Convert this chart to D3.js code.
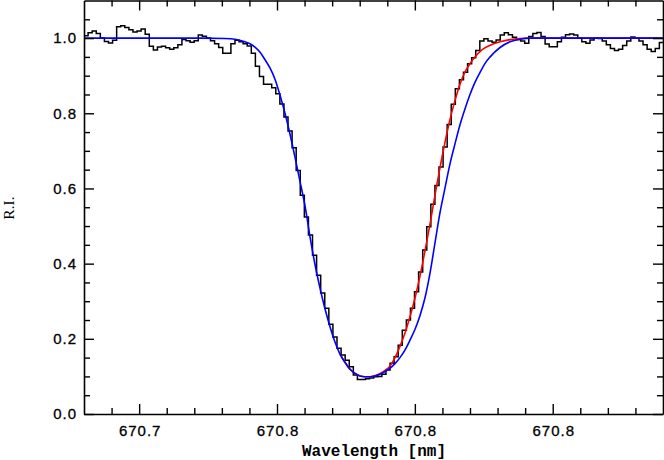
<!DOCTYPE html>
<html>
<head>
<meta charset="utf-8">
<script src="https://cdn.jsdelivr.net/npm/d3@7"></script>
<style>
  html, body { margin: 0; padding: 0; background: #ffffff; }
  svg { display: block; }
</style>
</head>
<body>
<svg id="chart" width="664" height="460"></svg>
<script>
// ---------------- data ----------------
// observed spectrum: regular wavelength grid, one flux value per bin
const obsLambda0 = 670.6800;
const obsStep = 0.00148;
const obsFlux = [
  1.006, 1.014, 1.019, 1.012, 1.000, 0.991, 0.987, 0.994, 1.030, 1.033,
  1.028, 1.022, 1.016, 1.019, 1.024, 1.010, 0.978, 0.968, 0.976, 0.978,
  0.974, 0.970, 0.974, 0.982, 0.996, 0.993, 0.989, 0.993, 1.008, 1.005,
  1.000, 0.993, 0.985, 0.975, 0.960, 0.960, 0.985, 0.994, 0.990, 0.985,
  0.979, 0.960, 0.925, 0.898, 0.877, 0.877, 0.868, 0.852, 0.825, 0.790,
  0.753, 0.708, 0.648, 0.582, 0.524, 0.476, 0.422, 0.369, 0.322, 0.281,
  0.239, 0.205, 0.175, 0.157, 0.143, 0.126, 0.104, 0.092, 0.092, 0.094,
  0.096, 0.099, 0.100, 0.106, 0.117, 0.135, 0.152, 0.183, 0.223, 0.250,
  0.281, 0.325, 0.378, 0.436, 0.498, 0.558, 0.608, 0.657, 0.710, 0.770,
  0.824, 0.865, 0.889, 0.909, 0.932, 0.948, 0.967, 0.992, 0.998, 0.992,
  0.989, 0.995, 1.008, 1.014, 1.009, 1.002, 0.996, 0.992, 0.986, 1.004,
  1.012, 1.015, 1.004, 0.984, 0.977, 0.977, 0.990, 1.002, 1.009, 1.011,
  1.008, 1.000, 0.990, 0.986, 0.995, 1.000, 0.999, 0.992, 0.982, 0.972,
  0.967, 0.970, 0.980, 0.992, 1.003, 1.000, 0.992, 0.982, 0.970, 0.964,
  0.972, 0.988
];

// blue model
const blueLambda = [
  670.6800, 670.7221, 670.7311, 670.7348, 670.7384, 670.7402, 670.7420, 670.7438,
  670.7456, 670.7475, 670.7493, 670.7511, 670.7529, 670.7547, 670.7565, 670.7583,
  670.7602, 670.7620, 670.7638, 670.7656, 670.7674, 670.7692, 670.7710, 670.7728,
  670.7747, 670.7765, 670.7783, 670.7801, 670.7819, 670.7837, 670.7855, 670.7874,
  670.7892, 670.7910, 670.7928, 670.7946, 670.7964, 670.7982, 670.8001, 670.8019,
  670.8037, 670.8055, 670.8073, 670.8091, 670.8109, 670.8127, 670.8146, 670.8164,
  670.8182, 670.8200, 670.8218, 670.8236, 670.8254, 670.8273, 670.8309, 670.8345,
  670.8381, 670.8418, 670.8900
];
const blueFlux = [
  1.000, 1.000, 0.999, 0.997, 0.990, 0.985, 0.976, 0.963,
  0.943, 0.920, 0.890, 0.848, 0.800, 0.745, 0.684, 0.620,
  0.552, 0.470, 0.397, 0.335, 0.280, 0.233, 0.192, 0.160,
  0.137, 0.119, 0.108, 0.101, 0.099, 0.099, 0.101, 0.106,
  0.113, 0.122, 0.134, 0.150, 0.170, 0.196, 0.226, 0.263,
  0.310, 0.375, 0.455, 0.535, 0.600, 0.664, 0.720, 0.770,
  0.812, 0.850, 0.882, 0.908, 0.932, 0.950, 0.975, 0.990,
  0.997, 1.000, 1.000
];

// red model
const redLambda = [
  670.7728, 670.7747, 670.7765, 670.7783, 670.7801, 670.7819, 670.7837, 670.7855,
  670.7874, 670.7892, 670.7910, 670.7928, 670.7946, 670.7964, 670.7982, 670.8001,
  670.8019, 670.8037, 670.8055, 670.8073, 670.8091, 670.8109, 670.8127, 670.8146,
  670.8164, 670.8182, 670.8200, 670.8218, 670.8236, 670.8254, 670.8273, 670.8309,
  670.8345, 670.8381, 670.8418, 670.8900
];
const redFlux = [
  0.160, 0.137, 0.119, 0.108, 0.101, 0.099, 0.099, 0.102,
  0.108, 0.116, 0.128, 0.150, 0.180, 0.215, 0.258, 0.310,
  0.368, 0.435, 0.505, 0.582, 0.655, 0.722, 0.782, 0.835,
  0.878, 0.910, 0.932, 0.950, 0.964, 0.974, 0.981, 0.990,
  0.996, 0.999, 1.000, 1.000
];

// axes
const xDomain = [670.68, 670.89];
const yDomain = [0, 1.1];
const xMajorTicks = [670.70, 670.75, 670.80, 670.85];
const xMajorLabels = ["670.7", "670.8", "670.8", "670.8"];
const yMajorTicks = [0.0, 0.2, 0.4, 0.6, 0.8, 1.0];
const yMajorLabels = ["0.0", "0.2", "0.4", "0.6", "0.8", "1.0"];
const xLabel = "Wavelength [nm]";
const yLabel = "R.I.";

// ---------------- drawing ----------------
const svg = d3.select("#chart");
const L = 84, R = 663, T = 0.5, B = 414;

const x = d3.scaleLinear().domain(xDomain).range([L, R]);
const y = d3.scaleLinear().domain(yDomain).range([B, T]);

const xMinor = d3.range(0, 22).map(i => 670.68 + i * 0.01)
  .filter(v => v > xDomain[0] + 1e-9 && v < xDomain[1] - 1e-9 &&
               !xMajorTicks.some(m => Math.abs(m - v) < 1e-6));
const yMinor = d3.range(0, 23).map(i => i * 0.05)
  .filter(v => v > 1e-9 && v < yDomain[1] - 1e-9 &&
               !yMajorTicks.some(m => Math.abs(m - v) < 1e-6));

svg.append("defs").append("clipPath").attr("id", "plotclip")
  .append("rect").attr("x", L).attr("y", T).attr("width", R - L).attr("height", B - T);

const plot = svg.append("g").attr("clip-path", "url(#plotclip)");

// observed histogram
const obsPts = obsFlux.map((f, i) => [obsLambda0 + i * obsStep, f]);
obsPts.push([obsLambda0 + obsFlux.length * obsStep, obsFlux[obsFlux.length - 1]]);
plot.append("path")
  .attr("d", d3.line().x(d => x(d[0])).y(d => y(d[1])).curve(d3.curveStepAfter)(obsPts))
  .attr("fill", "none").attr("stroke", "#000").attr("stroke-width", 1.5);

const smooth = d3.line().x(d => x(d[0])).y(d => y(d[1])).curve(d3.curveMonotoneX);

plot.append("path")
  .attr("d", smooth(redLambda.map((l, i) => [l, redFlux[i]])))
  .attr("fill", "none").attr("stroke", "#ff0000").attr("stroke-width", 1.6);

plot.append("path")
  .attr("d", smooth(blueLambda.map((l, i) => [l, blueFlux[i]])))
  .attr("fill", "none").attr("stroke", "#0000ff").attr("stroke-width", 1.6);

// axes helper
function styleAxis(g) {
  g.selectAll("path.domain").attr("stroke", "#000").attr("stroke-width", 1.6);
  g.selectAll(".tick line").attr("stroke", "#000").attr("stroke-width", 1.4);
  g.selectAll(".tick text").attr("fill", "#000")
    .attr("stroke", "#000").attr("stroke-width", 0.3)
    .style("font-family", "'Liberation Sans', Arial, sans-serif")
    .style("font-size", "15px").style("letter-spacing", "1px");
}

// bottom
const gB = svg.append("g").attr("transform", `translate(0,${B})`)
  .call(d3.axisBottom(x).tickValues(xMajorTicks)
    .tickFormat((d, i) => xMajorLabels[i]).tickSizeInner(-10).tickSizeOuter(0).tickPadding(11));
styleAxis(gB);
gB.selectAll(".tick text").attr("dx", "0.5");
svg.append("g").attr("transform", `translate(0,${B})`)
  .call(d3.axisBottom(x).tickValues(xMinor).tickFormat("").tickSizeInner(-6).tickSizeOuter(0))
  .call(g => { g.select("path.domain").remove(); styleAxis(g); });

// top
const gT = svg.append("g").attr("transform", `translate(0,${T})`)
  .call(d3.axisTop(x).tickValues(xMajorTicks).tickFormat("").tickSizeInner(-10).tickSizeOuter(0));
styleAxis(gT);
svg.append("g").attr("transform", `translate(0,${T})`)
  .call(d3.axisTop(x).tickValues(xMinor).tickFormat("").tickSizeInner(-6).tickSizeOuter(0))
  .call(g => { g.select("path.domain").remove(); styleAxis(g); });

// left
const gL = svg.append("g").attr("transform", `translate(${L},0)`)
  .call(d3.axisLeft(y).tickValues(yMajorTicks)
    .tickFormat((d, i) => yMajorLabels[i]).tickSizeInner(-10).tickSizeOuter(0).tickPadding(7));
styleAxis(gL);
svg.append("g").attr("transform", `translate(${L},0)`)
  .call(d3.axisLeft(y).tickValues(yMinor).tickFormat("").tickSizeInner(-6).tickSizeOuter(0))
  .call(g => { g.select("path.domain").remove(); styleAxis(g); });

// right
const gR = svg.append("g").attr("transform", `translate(${R},0)`)
  .call(d3.axisRight(y).tickValues(yMajorTicks).tickFormat("").tickSizeInner(-10).tickSizeOuter(0));
styleAxis(gR);
svg.append("g").attr("transform", `translate(${R},0)`)
  .call(d3.axisRight(y).tickValues(yMinor).tickFormat("").tickSizeInner(-6).tickSizeOuter(0))
  .call(g => { g.select("path.domain").remove(); styleAxis(g); });

// axis titles
svg.append("text")
  .attr("x", 374).attr("y", 456)
  .attr("text-anchor", "middle")
  .style("font-family", "'Liberation Mono', 'DejaVu Sans Mono', monospace")
  .style("font-weight", "bold").style("font-size", "16px")
  .attr("fill", "#000")
  .text(xLabel);

svg.append("text")
  .attr("transform", "translate(13.5,208) rotate(-90)")
  .attr("text-anchor", "middle")
  .style("font-family", "'Liberation Serif', 'DejaVu Serif', serif")
  .style("font-size", "15.5px")
  .attr("fill", "#000")
  .text(yLabel);
</script>
</body>
</html>
